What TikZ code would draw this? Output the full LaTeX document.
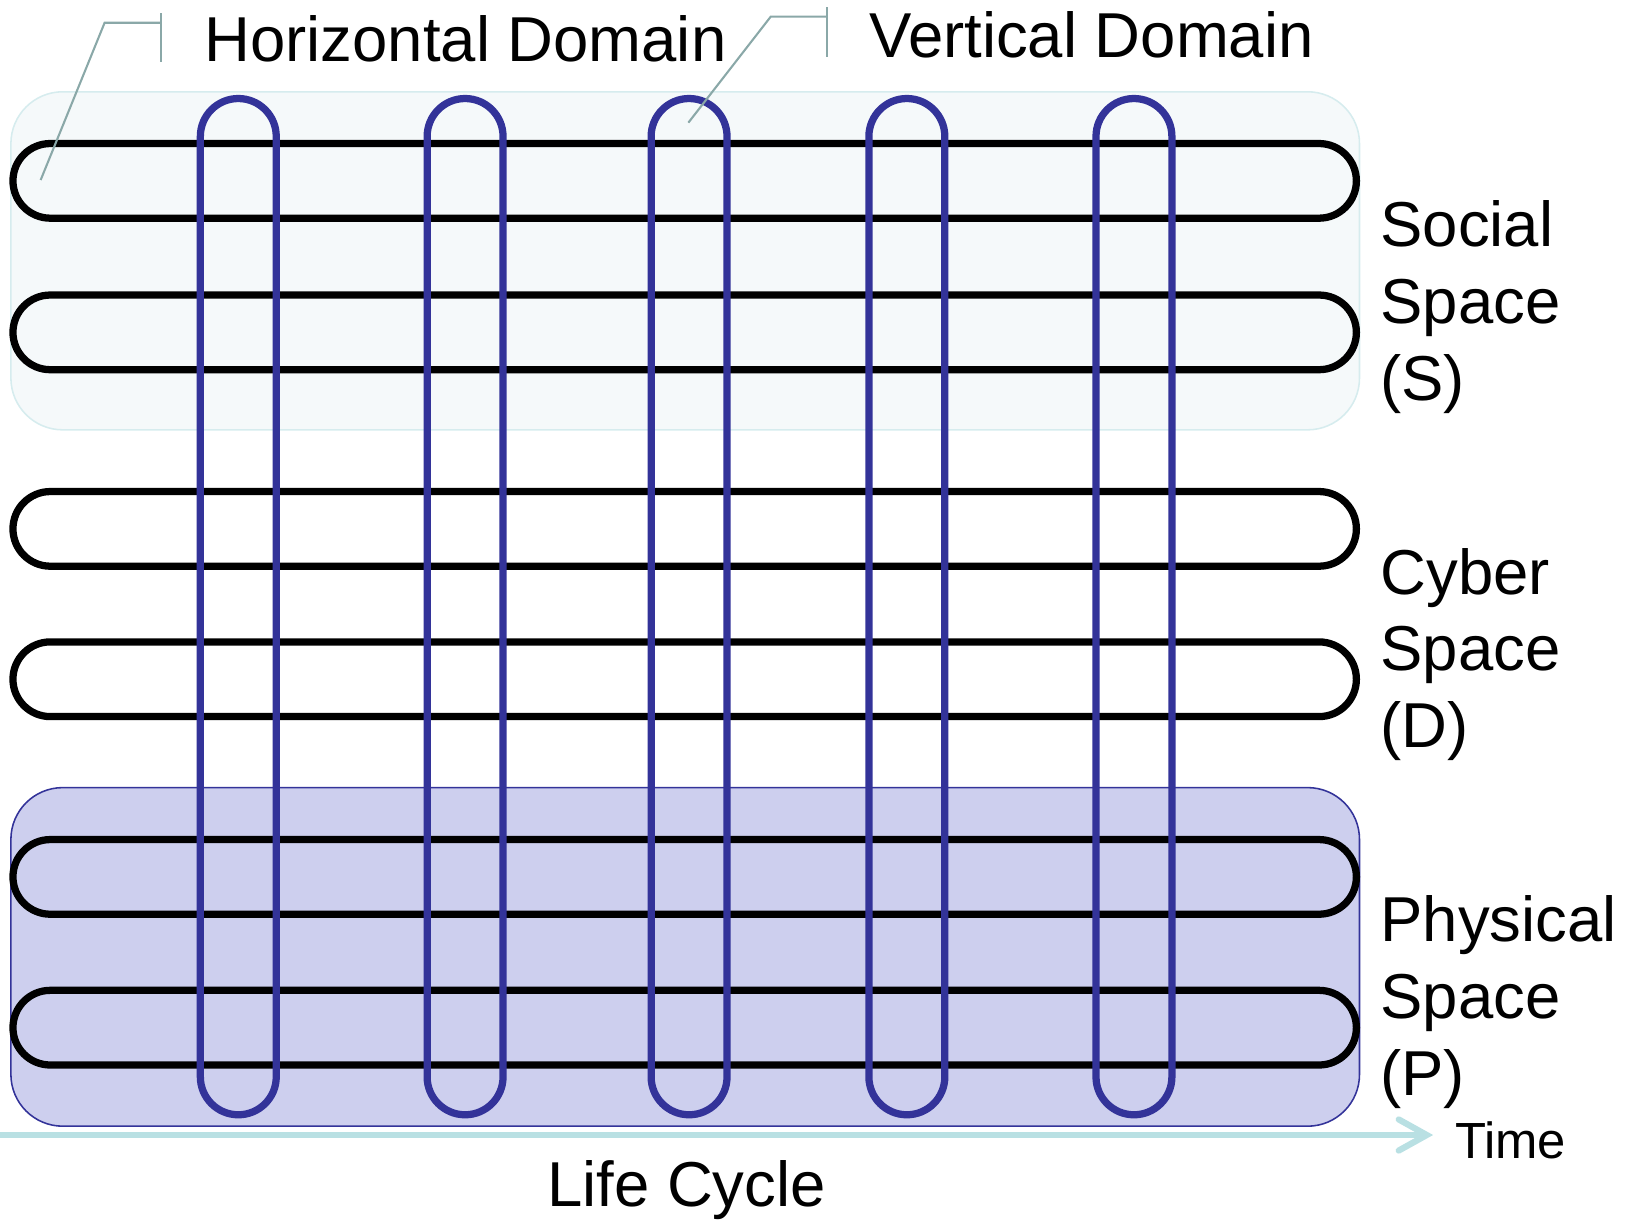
\documentclass[tikz,border=0pt]{standalone}
\usepackage{fontspec}
\setmainfont{Liberation Sans}
\usetikzlibrary{arrows.meta}
\definecolor{socfill}{HTML}{F5F9FA}
\definecolor{socedge}{HTML}{D6ECEE}
\definecolor{phyfill}{HTML}{CDCFEE}
\definecolor{domblue}{HTML}{333399}
\definecolor{timeteal}{HTML}{B9E0E3}
\definecolor{callgrey}{HTML}{8AA8A8}
\begin{document}
\begin{tikzpicture}[x=1pt,y=-1pt,
  lbl/.style={inner sep=0pt, font=\fontsize{61.2}{74}\selectfont},
  smalllbl/.style={inner sep=0pt, font=\fontsize{49}{58}\selectfont},
  hloop/.style={draw=black, line width=7pt, rounded corners=36pt},
  vloop/.style={draw=domblue, line width=7pt, rounded corners=36.6pt},
  callout/.style={draw=callgrey, line width=2pt},
  spacebox/.style={rounded corners=50pt, line width=1.5pt}]
\useasboundingbox (0,0) rectangle (1568,1176);
% background spaces
\draw[spacebox, fill=socfill, draw=socedge] (10.5,88.5) rectangle (1311,414.5);
\draw[spacebox, fill=phyfill, draw=domblue] (10.5,759.5) rectangle (1311,1086);
% horizontal loops
\foreach \yc in {174.4,320.5,510,655,845.6,991}{
  \draw[hloop] (12.5,\yc-36) rectangle (1308,\yc+36);
}
% vertical loops
\foreach \xc in {229.8,448.5,664.5,874.5,1093.5}{
  \draw[vloop] (\xc-36.6,95) rectangle (\xc+36.6,1075);
}
% time arrow
\coordinate (tstart) at (0,1094.5);
\coordinate (tend) at (1382,1094.5);
\draw[timeteal, line width=6pt, -{Straight Barb[length=27pt,width=30pt,line cap=round]}] (tstart) -- (tend);
% labels
\node[lbl, anchor=base west] (hd) at (197,59.5) {Horizontal Domain};
\node[lbl, anchor=base west] (vd) at (838,55) {Vertical Domain};
\node[lbl, anchor=base west] (s1) at (1331,238) {Social};
\node[lbl, anchor=base west] (s2) at (1331,312) {Space};
\node[lbl, anchor=base west] (s3) at (1331,386) {(S)};
\node[lbl, anchor=base west] (c1) at (1331,573) {Cyber};
\node[lbl, anchor=base west] (c2) at (1331,647) {Space};
\node[lbl, anchor=base west] (c3) at (1331,721) {(D)};
\node[lbl, anchor=base west] (p1) at (1331,908) {Physical};
\node[lbl, anchor=base west] (p2) at (1331,982) {Space};
\node[lbl, anchor=base west] (p3) at (1331,1056) {(P)};
\node[smalllbl, anchor=base west] (time) at (1403,1117) {Time};
\node[lbl, anchor=base] (life) at (662,1163) {Life Cycle};
% callouts
\coordinate (hpt) at (39.2,173.6);
\coordinate (hk) at (100.9,21.9);
\coordinate (hb) at (155.7,21.9);
\coordinate (hbt) at (155.7,12.9);
\coordinate (hbb) at (155.7,59.5);
\draw[callout] (hpt) -- (hk) -- (hb);
\draw[callout] (hbt) -- (hbb);
\coordinate (vpt) at (663.8,118.3);
\coordinate (vk) at (743.2,16.1);
\coordinate (vb) at (797.1,16.1);
\coordinate (vbt) at (797.1,7);
\coordinate (vbb) at (797.1,55.3);
\draw[callout] (vpt) -- (vk) -- (vb);
\draw[callout] (vbt) -- (vbb);
\end{tikzpicture}
\end{document}
